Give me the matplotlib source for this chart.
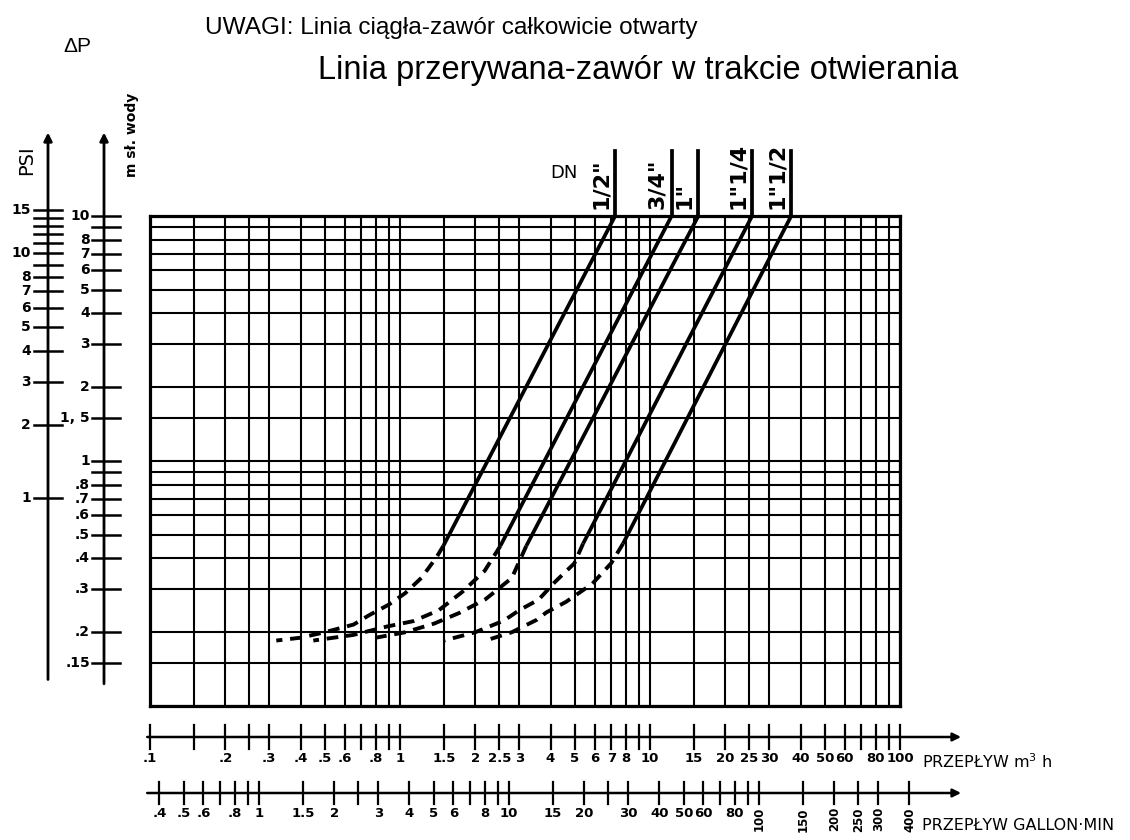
import matplotlib
matplotlib.use("Agg")
import matplotlib.pyplot as plt

# ---- data ----
# grid of the main log-log field
grid_q = [0.1, 0.15, 0.2, 0.25, 0.3, 0.4, 0.5, 0.6, 0.7, 0.8, 0.9,
          1, 1.5, 2, 2.5, 3, 4, 5, 6, 7, 8, 9,
          10, 15, 20, 25, 30, 40, 50, 60, 70, 80, 90, 100]
grid_p = [0.1, 0.15, 0.2, 0.3, 0.4, 0.5, 0.6, 0.7, 0.8, 0.9,
          1, 1.5, 2, 3, 4, 5, 6, 7, 8, 9, 10]

# valve sizes, solid line = fully open (from P=10 m down to the end point)
dn_labels = ['1/2"', '3/4"', '1"', '1"1/4', '1"1/2']
q_at_top = [7.25, 12.2, 15.6, 25.6, 36.7]      # m3/h at 10 m
q_solid_end = [1.49, 2.52, 3.2, 5.4, 7.8]
p_solid_end = [0.45, 0.45, 0.45, 0.46, 0.46]

# dashed = valve opening
dash_q_12 = [1.49, 1.40, 1.22, 1.05, 0.90, 0.754, 0.652, 0.50, 0.40, 0.32]
dash_p_12 = [0.45, 0.405, 0.334, 0.289, 0.259, 0.235, 0.215, 0.20, 0.19, 0.185]
dash_q_34 = [2.52, 2.18, 1.78, 1.43, 1.13, 0.886, 0.65, 0.45]
dash_p_34 = [0.45, 0.356, 0.293, 0.246, 0.222, 0.211, 0.195, 0.185]
dash_q_1 = [3.2, 2.80, 2.20, 1.73, 1.37, 1.05, 0.8]
dash_p_1 = [0.45, 0.333, 0.273, 0.240, 0.217, 0.20, 0.19]
dash_q_114 = [5.4, 4.98, 4.17, 3.59, 3.00, 2.60, 2.0, 1.5]
dash_p_114 = [0.46, 0.382, 0.321, 0.272, 0.246, 0.223, 0.20, 0.185]
dash_q_112 = [7.8, 7.0, 5.87, 4.61, 3.85, 3.53, 2.8, 2.2]
dash_p_112 = [0.46, 0.383, 0.315, 0.266, 0.241, 0.225, 0.20, 0.185]
dashed = [(dash_q_12, dash_p_12), (dash_q_34, dash_p_34), (dash_q_1, dash_p_1),
          (dash_q_114, dash_p_114), (dash_q_112, dash_p_112)]

# left scales
m_ticks = [10, 9, 8, 7, 6, 5, 4, 3, 2, 1.5, 1, 0.9, 0.8, 0.7, 0.6, 0.5, 0.4, 0.3, 0.2, 0.15]
m_labels = ['10', '', '8', '7', '6', '5', '4', '3', '2', '1, 5', '1', '', '.8', '.7', '.6',
            '.5', '.4', '.3', '.2', '.15']
psi_ticks = [15, 14, 13, 12, 11, 10, 9, 8, 7, 6, 5, 4, 3, 2, 1]
psi_labels = ['15', '', '', '', '', '10', '', '8', '7', '6', '5', '4', '3', '2', '1']
M_PER_PSI = 0.70307

# bottom scales
m3h_ticks = [0.1, 0.15, 0.2, 0.25, 0.3, 0.4, 0.5, 0.6, 0.7, 0.8, 0.9, 1, 1.5, 2, 2.5, 3,
             4, 5, 6, 7, 8, 9, 10, 15, 20, 25, 30, 40, 50, 60, 70, 80, 90, 100]
m3h_labels = ['.1', '', '.2', '', '.3', '.4', '.5', '.6', '', '.8', '', '1', '1.5', '2', '2.5', '3',
              '4', '5', '6', '7', '8', '', '10', '15', '20', '25', '30', '40', '50', '60', '', '80', '', '100']
gpm_ticks = [0.4, 0.5, 0.6, 0.7, 0.8, 0.9, 1, 1.5, 2, 2.5, 3, 4, 5, 6, 7, 8, 9, 10,
             15, 20, 25, 30, 40, 50, 60, 70, 80, 90, 100, 150, 200, 250, 300, 400]
gpm_labels = ['.4', '.5', '.6', '', '.8', '', '1', '1.5', '2', '', '3', '4', '5', '6', '', '8', '', '10',
              '15', '20', '', '30', '40', '50', '60', '', '80', '', '100', '150', '200', '250', '300', '400']
GPM_PER_M3H = 3.666

# ---- layout (reference pixels) ----
W, H = 1130, 840
GL, GR, GT, GB = 150, 900, 216, 706

fig = plt.figure(figsize=(W / 100, H / 100), dpi=100)
fig.patch.set_facecolor('white')


def fx(px):
    return px / W


def fy(py):
    return 1 - py / H


# main grid
ax = fig.add_axes([fx(GL), fy(GB), (GR - GL) / W, (GB - GT) / H])
ax.set_xscale('log')
ax.set_yscale('log')
ax.set_xlim(0.1, 100)
ax.set_ylim(0.1, 10)
for q in grid_q:
    ax.axvline(q, color='k', lw=1.5)
for p in grid_p:
    ax.axhline(p, color='k', lw=1.5)
for s in ax.spines.values():
    s.set_linewidth(2.3)
ax.set_xticks([])
ax.set_yticks([])
ax.minorticks_off()

for i in range(5):
    ax.plot([q_at_top[i], q_solid_end[i]], [10, p_solid_end[i]], color='k', lw=2.7,
            solid_capstyle='butt')
    dq, dp = dashed[i]
    ax.plot(dq, dp, color='k', lw=2.8, linestyle=(0, (3, 2)))
    # leader line and DN label above the grid
    ax.plot([q_at_top[i], q_at_top[i]], [10, 18.5], color='k', lw=2.7, clip_on=False)
    ax.annotate(dn_labels[i], xy=(q_at_top[i], 10), xytext=(-3, 5), textcoords='offset points',
                rotation=90, ha='right', va='bottom', fontsize=16, fontweight='bold',
                annotation_clip=False)
ax.annotate('DN', xy=(q_at_top[0], 10), xytext=(-37, 31), textcoords='offset points',
            ha='center', va='center', fontsize=13, annotation_clip=False)

# left scales
axl = fig.add_axes([0, fy(GB), GL / W, (GB - GT) / H])
axl.set_yscale('log')
axl.set_ylim(0.1, 10)
axl.set_xlim(0, GL)
axl.axis('off')

XM, XP = 104, 48
top_p = 22.5
for xa, lo in ((XM, 0.12), (XP, 0.125)):
    axl.annotate('', xy=(xa, top_p), xytext=(xa, lo),
                 arrowprops=dict(arrowstyle='-|>', lw=2.0, color='k', mutation_scale=12),
                 annotation_clip=False)
for v, lab in zip(m_ticks, m_labels):
    axl.plot([XM - 12, XM + 16], [v, v], color='k', lw=1.8, clip_on=False)
    axl.text(XM - 14, v, lab, ha='right', va='center', fontsize=10, fontweight='bold')
for v, lab in zip(psi_ticks, psi_labels):
    pm = v * M_PER_PSI
    axl.plot([XP - 14, XP + 14], [pm, pm], color='k', lw=1.8, clip_on=False)
    axl.text(XP - 17, pm, lab, ha='right', va='center', fontsize=10, fontweight='bold')

fig.text(fx(27), fy(160), 'PSI', rotation=90, ha='center', va='center', fontsize=14)
fig.text(fx(132), fy(135), 'm sł. wody', rotation=90, ha='center', va='center',
         fontsize=10, fontweight='bold')
fig.text(fx(77), fy(46), 'ΔP', ha='center', va='center', fontsize=15,
         family=['Liberation Sans', 'DejaVu Sans'])

# bottom scales
axb = fig.add_axes([fx(GL), 0, (GR - GL) / W, (H - GB) / H])
axb.set_xscale('log')
axb.set_xlim(0.1, 100)
axb.set_ylim(0, H - GB)
axb.axis('off')

Y1, Y2 = H - 737, H - 793
for yy in (Y1, Y2):
    axb.annotate('', xy=(180, yy), xytext=(0.095, yy),
                 arrowprops=dict(arrowstyle='-|>', lw=1.8, color='k', mutation_scale=12),
                 annotation_clip=False)
for v, lab in zip(m3h_ticks, m3h_labels):
    axb.plot([v, v], [Y1 - 12, Y1 + 12], color='k', lw=1.6, clip_on=False)
    axb.text(v, Y1 - 15, lab, ha='center', va='top', fontsize=9.5, fontweight='bold')
for v, lab in zip(gpm_ticks, gpm_labels):
    q = v / GPM_PER_M3H
    axb.plot([q, q], [Y2 - 11, Y2 + 11], color='k', lw=1.6, clip_on=False)
    if v >= 100:
        axb.text(q, Y2 - 14, lab, ha='center', va='top', rotation=90, fontsize=8.5,
                 fontweight='bold', clip_on=False)
    else:
        axb.text(q, Y2 - 14, lab, ha='center', va='top', fontsize=9.5, fontweight='bold')

fig.text(fx(922), fy(762), 'PRZEPŁYW m$^3$ h', ha='left', va='center', fontsize=11.5)
fig.text(fx(922), fy(825), 'PRZEPŁYW GALLON·MIN', ha='left', va='center', fontsize=11.5)

# notes
fig.text(fx(205), fy(28), 'UWAGI: Linia ciągła-zawór całkowicie otwarty', ha='left', va='center',
         fontsize=17.6, family=['Liberation Sans', 'DejaVu Sans'])
fig.text(fx(318), fy(70), 'Linia przerywana-zawór w trakcie otwierania', ha='left', va='center',
         fontsize=23.5, family=['Liberation Sans', 'DejaVu Sans'])

fig.savefig('out.png', dpi=100, facecolor='white')
